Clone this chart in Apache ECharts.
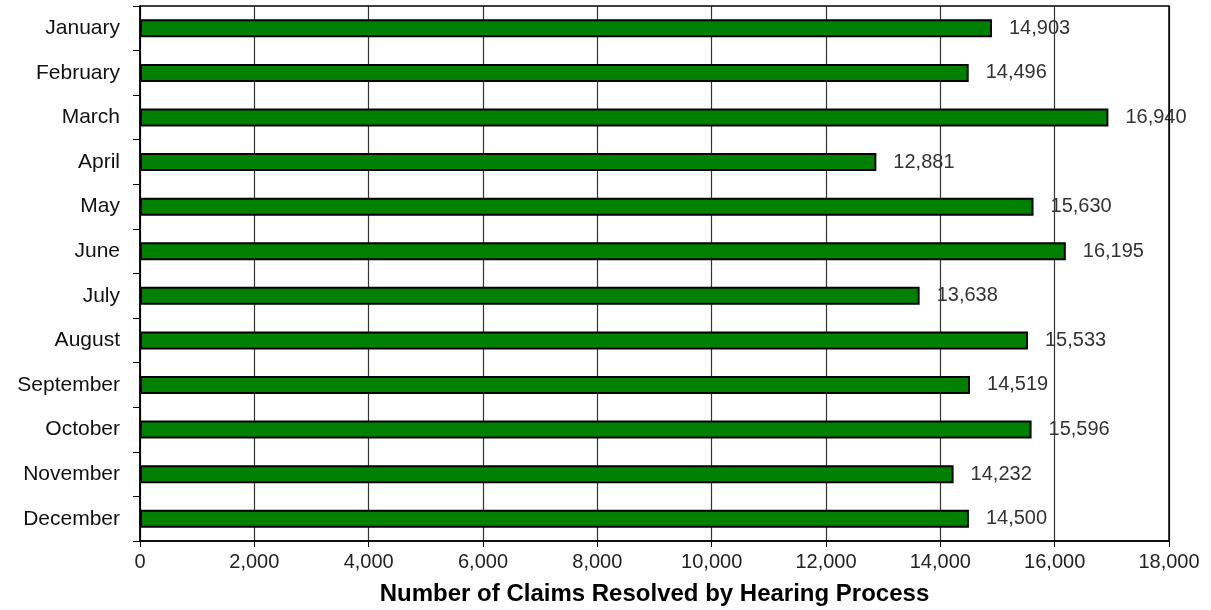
<!DOCTYPE html>
<html>
<head>
    <meta charset="utf-8">
    <title>Claims Resolved by Hearing Process</title>
    <script src="https://cdn.jsdelivr.net/npm/echarts@6/dist/echarts.min.js"></script>
    <style>
        html, body { margin: 0; padding: 0; background: #fff; }
        #main { width: 1211px; height: 610px; }
    </style>
</head>
<body>
<div id="main"></div>
<script>
    // 月份（从上往下）
    var months = ['January', 'February', 'March', 'April', 'May', 'June',
        'July', 'August', 'September', 'October', 'November', 'December'];
    // 每月结案数
    var claims = [14903, 14496, 16940, 12881, 15630, 16195,
        13638, 15533, 14519, 15596, 14232, 14500];
    var axisTitle = 'Number of Claims Resolved by Hearing Process';

    var chartDom = document.getElementById('main');
    var myChart = echarts.init(chartDom);
    var option;

    option = {
        animation: false,
        textStyle: { fontFamily: 'Liberation Sans, Arial, sans-serif' },
        grid: { left: 140, right: 42, top: 6, bottom: 69, containLabel: false, outerBoundsMode: 'none' },
        xAxis: {
            type: 'value',
            min: 0,
            max: 18000,
            interval: 2000,
            name: axisTitle,
            nameLocation: 'middle',
            nameGap: 41,
            nameTextStyle: { fontSize: 24, fontWeight: 'bold', color: '#000' },
            axisLine: { show: true, lineStyle: { color: '#000', width: 1.5 } },
            axisTick: { show: true, length: 6, lineStyle: { color: '#000' } },
            axisLabel: {
                fontSize: 20, color: '#222', margin: 11,
                formatter: function (v) { return v.toLocaleString('en-US'); }
            },
            splitLine: { show: true, lineStyle: { color: '#333', width: 1.2 } }
        },
        yAxis: {
            type: 'category',
            inverse: true,
            data: months,
            axisLine: { show: true, lineStyle: { color: '#000', width: 1.5 } },
            axisTick: { show: true, length: 7, lineStyle: { color: '#000' } },
            axisLabel: { fontSize: 21, color: '#111', margin: 20 },
            splitLine: { show: false }
        },
        series: [{
            type: 'bar',
            data: claims,
            barWidth: 18,
            itemStyle: { color: '#008000', borderColor: '#000', borderWidth: 2 },
            label: {
                show: true,
                position: 'right',
                distance: 17,
                fontSize: 20,
                color: '#333',
                formatter: function (p) { return p.value.toLocaleString('en-US'); }
            }
        }],
        graphic: [{
            type: 'rect',
            shape: { x: 140, y: 6, width: 1029, height: 535 },
            style: { fill: 'none', stroke: '#000', lineWidth: 1.5 },
            silent: true,
            z: 10
        }]
    };

    option && myChart.setOption(option);
</script>
</body>
</html>
